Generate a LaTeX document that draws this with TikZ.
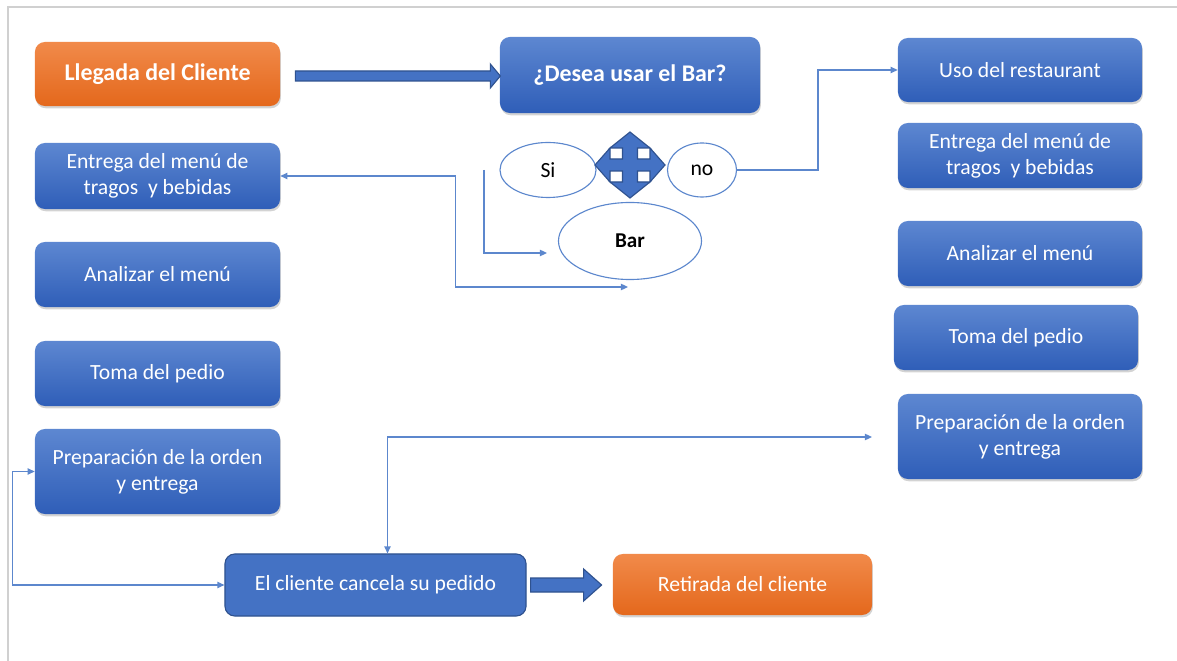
\documentclass[tikz,border=0pt]{standalone}
\usepackage{fontspec}
\setmainfont{Carlito}
\usetikzlibrary{shapes.geometric, arrows.meta, positioning, calc, shadows}
\definecolor{boxtop}{RGB}{93, 135, 209}
\definecolor{boxbot}{RGB}{47, 94, 184}
\definecolor{orangetop}{RGB}{241, 138, 74}
\definecolor{orangebot}{RGB}{228, 104, 28}
\definecolor{flatblue}{RGB}{68, 114, 196}
\definecolor{darkblue}{RGB}{47, 82, 143}
\definecolor{linkblue}{RGB}{92, 135, 205}
\definecolor{framegray}{RGB}{208, 208, 208}

\begin{document}
\begin{tikzpicture}[
    x=0.025cm, y=-0.025cm,
    >={Triangle[length=5pt, width=4.5pt]},
    step box/.style={rectangle, rounded corners=7pt, top color=boxtop, bottom color=boxbot, draw=none,
        text=white, minimum width=6.1cm, minimum height=1.6cm, align=center, inner sep=2pt,
        font=\fontsize{15.4}{18.5}\selectfont,
        drop shadow={opacity=0.35, shadow xshift=0.6pt, shadow yshift=-1.6pt}},
    end box/.style={step box, top color=orangetop, bottom color=orangebot},
    title font/.style={font=\fontsize{17}{20}\selectfont\bfseries},
    choice/.style={ellipse, draw=linkblue, thick, fill=white, inner sep=0pt, font=\fontsize{15.4}{18.5}\selectfont},
    link/.style={draw=linkblue, line width=0.9pt},
    bigarrow/.style={fill=flatblue, draw=darkblue, line width=0.8pt, line join=miter}
]
\useasboundingbox (0,0) rectangle (1177,661);

% Frame
\draw[framegray, line width=0.8pt] (8,661) -- (8,7) -- (1177,7);

% Top row
\node[end box, title font, minimum width=6.125cm] (llegada) at (157.5, 74) {Llegada del Cliente};
\node[step box, title font, minimum width=6.5cm, minimum height=1.9cm] (desea) at (630, 75) {¿Desea usar el Bar?};

% Big arrow to the question
\filldraw[bigarrow] ($(llegada.east)+(15,-3)$) -- ++(195,0) -- ++(0,-7) -- ++(10,12) -- ++(-10,12)
    -- ++(0,-7) -- ++(-195,0) -- cycle;

% Choices
\node[choice, minimum width=2.4cm, minimum height=1.375cm] (si) at (548, 170) {Si};
\node[choice, minimum width=1.725cm, minimum height=1.35cm] (no) at (702, 170) {no};
\node[choice, minimum width=3.575cm, minimum height=1.925cm, font=\fontsize{15}{18}\selectfont\bfseries] (bar) at (630, 241) {Bar};

% Four way arrow
\coordinate (cross) at (630, 165);
\filldraw[bigarrow, shift={(cross)}] (0,-33) -- (20,-17) -- (7.5,-17) -- (7.5,-6) -- (20,-6) -- (20,-17)
    -- (35,0) -- (20,17) -- (20,6) -- (7.5,6) -- (7.5,17) -- (20,17)
    -- (0,33) -- (-20,17) -- (-7.5,17) -- (-7.5,6) -- (-20,6) -- (-20,17)
    -- (-35,0) -- (-20,-17) -- (-20,-6) -- (-7.5,-6) -- (-7.5,-17) -- (-20,-17) -- cycle;

% Bar side (left column)
\node[step box, minimum width=6.125cm, minimum height=1.65cm] (entregaL) at (157.5, 176) {Entrega del menú de\\tragos\ \ y bebidas};
\node[step box, minimum width=6.125cm, minimum height=1.625cm] (analizarL) at (157.5, 274.5) {Analizar el menú};
\node[step box, minimum width=6.125cm, minimum height=1.625cm] (tomaL) at (157.5, 373.5) {Toma del pedio};
\node[step box, minimum width=6.125cm, minimum height=2.125cm] (prepL) at (157.5, 471.5) {Preparación de la orden\\y entrega};

% Restaurant side (right column)
\node[step box] (uso) at (1020, 70) {Uso del restaurant};
\node[step box, minimum height=1.625cm] (entregaR) at (1020, 155.5) {Entrega del menú de\\tragos\ \ y bebidas};
\node[step box, minimum height=1.625cm] (analizarR) at (1020, 253.5) {Analizar el menú};
\node[step box, minimum height=1.625cm] (tomaR) at (1016, 337.5) {Toma del pedio};
\node[step box, minimum height=2.125cm] (prepR) at (1020, 436.5) {Preparación de la orden\\y entrega};

% Bottom row
\node[rectangle, rounded corners=7pt, fill=flatblue, draw=darkblue, line width=0.8pt, text=white,
    minimum width=7.525cm, minimum height=1.55cm, font=\fontsize{15.4}{18.5}\selectfont] (cancela) at (375.5, 585) {El cliente cancela su pedido};
\node[end box, minimum width=6.475cm, minimum height=1.525cm] (retirada) at (742.5, 584.5) {Retirada del cliente};

% Big arrow to the exit
\filldraw[bigarrow] ($(cancela.east)+(4,-7)$) -- ++(53,0) -- ++(0,-9) -- ++(18,16) -- ++(-18,16)
    -- ++(0,-9) -- ++(-53,0) -- cycle;

% Connectors
\coordinate (barin) at (628, 287);
\coordinate (sifoot) at (484, 170);
\coordinate (barleft) at (547, 253);
\coordinate (prepRin) at (872, 437);
\draw[link, ->] (no.east) -- ++(81,0) |- (uso.west);
\draw[link, <->] (entregaL.east) -- ++(175,0) |- (barin);
\draw[link, ->] (sifoot) |- (barleft);
\draw[link, <->] (prepL.west) -- ++(-22,0) |- (cancela.west);
\draw[link, <->] ($(cancela.north)+(12,0)$) |- (prepRin);

\end{tikzpicture}
\end{document}
